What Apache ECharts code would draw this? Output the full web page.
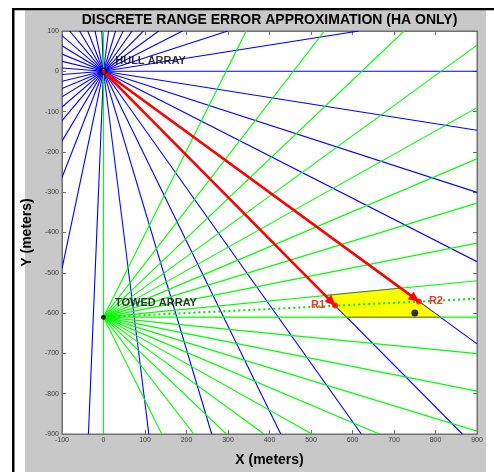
<!DOCTYPE html>
<html>
<head>
<meta charset="utf-8">
<script src="https://cdn.jsdelivr.net/npm/echarts@6/dist/echarts.min.js"></script>
<style>
  html, body { margin: 0; padding: 0; background: #ffffff; }
  #chart { width: 494px; height: 472px; }
</style>
</head>
<body>
<div id="chart"></div>
<script>
// Axis ranges and tick spacing (meters)
const xRange = [-100, 900];
const yRange = [-900, 100];
const tickStep = 100;

// Sensor positions
const hullArray = [0, 0];
const towedArray = [0, -610];

// Hull array beam bearings (deg, counter-clockwise from +X)
const hullBearingsDeg = [
  0, 9.231, 18.462, 27.692, 36.923, 46.154, 55.385, 64.615, 73.846, 83.077,
  92.308, 101.538, 110.769, 120.000, 129.231, 138.462, 147.692, 156.923, 166.154, 175.385,
  184.615, 193.846, 203.077, 212.308, 221.538, 230.769, 240.000, 249.231, 258.462, 267.692,
  276.923, 286.154, 295.385, 304.615, 313.846, 323.077, 332.308, 341.538, 350.769
];

// Towed array beams, given as sine of the elevation from +X
const towedBeamSines = [
  -1.0, -0.9, -0.8, -0.7, -0.6, -0.5, -0.4, -0.3, -0.2, -0.1,
  0.0, 0.1, 0.2, 0.3, 0.4, 0.5, 0.6, 0.7, 0.8, 0.9, 1.0
];

// Towed array bearing to the contact (deg)
const towedContactBearingDeg = 2.9;

// Range fixes along the two bracketing hull beams
const fixNames = ['R1', 'R2'];
const fixPoints = [[558, -581], [760, -571]];

// True contact position
const target = [750, -600];

// Error cell: between two hull beams and two towed beams
const cellHullBearingsDeg = [313.846, 323.077];
const cellTowedSines = [0.0, 0.1];

const rad = Math.PI / 180;

// Clip a ray from an origin to the plotting box; returns [x0, y0, x1, y1]
function rayToBox(origin, dx, dy) {
  let t = Infinity;
  if (dx > 1e-12) t = Math.min(t, (xRange[1] - origin[0]) / dx);
  if (dx < -1e-12) t = Math.min(t, (xRange[0] - origin[0]) / dx);
  if (dy > 1e-12) t = Math.min(t, (yRange[1] - origin[1]) / dy);
  if (dy < -1e-12) t = Math.min(t, (yRange[0] - origin[1]) / dy);
  return [origin[0], origin[1], origin[0] + t * dx, origin[1] + t * dy];
}

function hullDir(deg) { return [Math.cos(deg * rad), Math.sin(deg * rad)]; }
function towedDir(s) { return [Math.sqrt(Math.max(0, 1 - s * s)), s]; }

// Intersection of a hull beam with a towed beam
function crossBeams(hDeg, tSine) {
  const d1 = hullDir(hDeg), d2 = towedDir(tSine);
  const rx = towedArray[0] - hullArray[0], ry = towedArray[1] - hullArray[1];
  const det = d1[0] * (-d2[1]) - d1[1] * (-d2[0]);
  const a = (rx * (-d2[1]) - ry * (-d2[0])) / det;
  return [hullArray[0] + a * d1[0], hullArray[1] + a * d1[1]];
}

const hullRays = hullBearingsDeg.map(b => {
  const d = hullDir(b);
  return rayToBox(hullArray, d[0], d[1]);
});
const towedRays = towedBeamSines.map(s => {
  const d = towedDir(s);
  return rayToBox(towedArray, d[0], d[1]);
});
const contactRay = [rayToBox(towedArray,
  Math.cos(towedContactBearingDeg * rad), Math.sin(towedContactBearingDeg * rad))];
const rangeVectors = fixPoints.map(p => [hullArray[0], hullArray[1], p[0], p[1]]);

const cellVertices = [
  crossBeams(cellHullBearingsDeg[0], cellTowedSines[1]),
  crossBeams(cellHullBearingsDeg[1], cellTowedSines[1]),
  crossBeams(cellHullBearingsDeg[1], cellTowedSines[0]),
  crossBeams(cellHullBearingsDeg[0], cellTowedSines[0])
];

const FONT = '"Liberation Sans", Arial, Helvetica, sans-serif';
const boxColor = '#707070';

// Segment series drawn with the cartesian scale
function segmentSeries(name, data, style, z) {
  return {
    name: name, type: 'custom', coordinateSystem: 'cartesian2d',
    data: data, z: z, silent: true, clip: true,
    encode: { x: [0, 2], y: [1, 3] },
    renderItem: function (params, api) {
      const p0 = api.coord([api.value(0), api.value(1)]);
      const p1 = api.coord([api.value(2), api.value(3)]);
      return {
        type: 'line',
        shape: { x1: p0[0], y1: p0[1], x2: p1[0], y2: p1[1] },
        style: Object.assign({ fill: null }, style)
      };
    }
  };
}

// Arrow heads at the end of each range vector
function arrowHeadSeries(data, color, len, halfW, z) {
  return {
    name: 'arrow heads', type: 'custom', coordinateSystem: 'cartesian2d',
    data: data, z: z, silent: true,
    encode: { x: [0, 2], y: [1, 3] },
    renderItem: function (params, api) {
      const p0 = api.coord([api.value(0), api.value(1)]);
      const p1 = api.coord([api.value(2), api.value(3)]);
      const dx = p1[0] - p0[0], dy = p1[1] - p0[1];
      const L = Math.hypot(dx, dy), ux = dx / L, uy = dy / L;
      const bx = p1[0] - ux * len, by = p1[1] - uy * len;
      return {
        type: 'polygon',
        shape: { points: [
          [p1[0], p1[1]],
          [bx - uy * halfW, by + ux * halfW],
          [bx + uy * halfW, by - ux * halfW]
        ] },
        style: { fill: color, stroke: color, lineWidth: 0.5 }
      };
    }
  };
}

const chart = echarts.init(document.getElementById('chart'), null, { renderer: 'canvas' });

function axis(extra) {
  return Object.assign({
    type: 'value',
    interval: tickStep,
    axisLine: { show: true, onZero: false, lineStyle: { color: boxColor, width: 1 } },
    axisTick: { show: true, inside: true, length: 4, lineStyle: { color: boxColor } },
    splitLine: { show: false },
    axisLabel: { show: true, fontSize: 7, color: '#3a3a3a', fontFamily: FONT, margin: 3 }
  }, extra);
}

chart.setOption({
  animation: false,
  backgroundColor: '#ffffff',
  graphic: [
    { type: 'rect', z: -10, shape: { x: 25, y: 10, width: 461, height: 462 }, style: { fill: '#c8c8c8' }, silent: true },
    { type: 'rect', z: -9, shape: { x: 12, y: 8, width: 2.5, height: 464 }, style: { fill: '#000000' }, silent: true },
    { type: 'rect', z: -9, shape: { x: 12, y: 8, width: 482, height: 2.3 }, style: { fill: '#000000' }, silent: true },
    {
      type: 'text', x: 269.5, y: 20, z: 10,
      style: {
        text: 'DISCRETE RANGE ERROR APPROXIMATION (HA ONLY)',
        fontFamily: FONT, fontSize: 14, fontWeight: 'bold', fill: '#000000',
        align: 'center', verticalAlign: 'middle'
      }
    }
  ],
  grid: {
    left: 62, top: 31, width: 415, height: 412,
    show: true, backgroundColor: '#ffffff', borderColor: boxColor, borderWidth: 1
  },
  xAxis: [
    axis({
      min: xRange[0], max: xRange[1], position: 'bottom',
      name: 'X (meters)', nameLocation: 'middle', nameGap: 19,
      nameTextStyle: { fontFamily: FONT, fontSize: 14, fontWeight: 'bold', color: '#000000' }
    }),
    axis({
      min: xRange[0], max: xRange[1], position: 'top',
      axisLabel: { show: false }
    })
  ],
  yAxis: [
    axis({
      min: yRange[0], max: yRange[1], position: 'left',
      name: 'Y (meters)', nameLocation: 'middle', nameGap: 27,
      nameTextStyle: { fontFamily: FONT, fontSize: 14, fontWeight: 'bold', color: '#000000' }
    }),
    axis({
      min: yRange[0], max: yRange[1], position: 'right',
      axisLabel: { show: false }
    })
  ],
  series: [
    segmentSeries('hull beams', hullRays, { stroke: '#0000ff', lineWidth: 1.1 }, 2),
    segmentSeries('towed beams', towedRays, { stroke: '#00ff00', lineWidth: 1.1 }, 3),
    {
      name: 'error cell', type: 'custom', coordinateSystem: 'cartesian2d',
      data: [cellVertices[0]], z: 4, silent: true,
      renderItem: function (params, api) {
        const pts = cellVertices.map(p => api.coord(p));
        return {
          type: 'polygon',
          shape: { points: pts },
          style: { fill: '#ffff00', stroke: '#4a4a4a', lineWidth: 0.8 }
        };
      }
    },
    segmentSeries('contact bearing', contactRay,
      { stroke: '#00e600', lineWidth: 2, lineDash: [2, 3] }, 5),
    segmentSeries('range vectors', rangeVectors,
      { stroke: '#ff0000', lineWidth: 2.6, lineCap: 'round' }, 6),
    arrowHeadSeries(rangeVectors, '#ff0000', 10, 4.5, 7),
    {
      name: 'fixes', type: 'scatter', z: 8, silent: true,
      symbol: 'circle', symbolSize: 6,
      itemStyle: { color: '#ff0000' },
      data: fixPoints.map((p, i) => ({
        value: p,
        label: {
          show: true, formatter: fixNames[i],
          position: i === 0 ? 'left' : 'right', distance: 7,
          fontFamily: FONT, fontSize: 11, fontWeight: 'bold', color: '#ff0000'
        }
      }))
    },
    {
      name: 'arrays', type: 'scatter', z: 9, silent: true,
      data: [
        {
          value: hullArray, symbol: 'circle', symbolSize: 6,
          itemStyle: { color: 'rgba(0,0,0,0)', borderColor: '#000000', borderWidth: 1.5 },
          label: {
            show: true, formatter: 'HULL ARRAY', position: 'right', distance: 8,
            offset: [0, -10],
            fontFamily: FONT, fontSize: 11, fontWeight: 'bold', color: '#000000'
          }
        },
        {
          value: towedArray, symbol: 'circle', symbolSize: 5,
          itemStyle: { color: '#000000' },
          label: {
            show: true, formatter: 'TOWED ARRAY', position: 'right', distance: 9,
            offset: [0, -14],
            fontFamily: FONT, fontSize: 11, fontWeight: 'bold', color: '#000000'
          }
        },
        {
          value: target, symbol: 'circle', symbolSize: 7,
          itemStyle: { color: '#000000' }
        }
      ]
    }
  ]
});
</script>
</body>
</html>
